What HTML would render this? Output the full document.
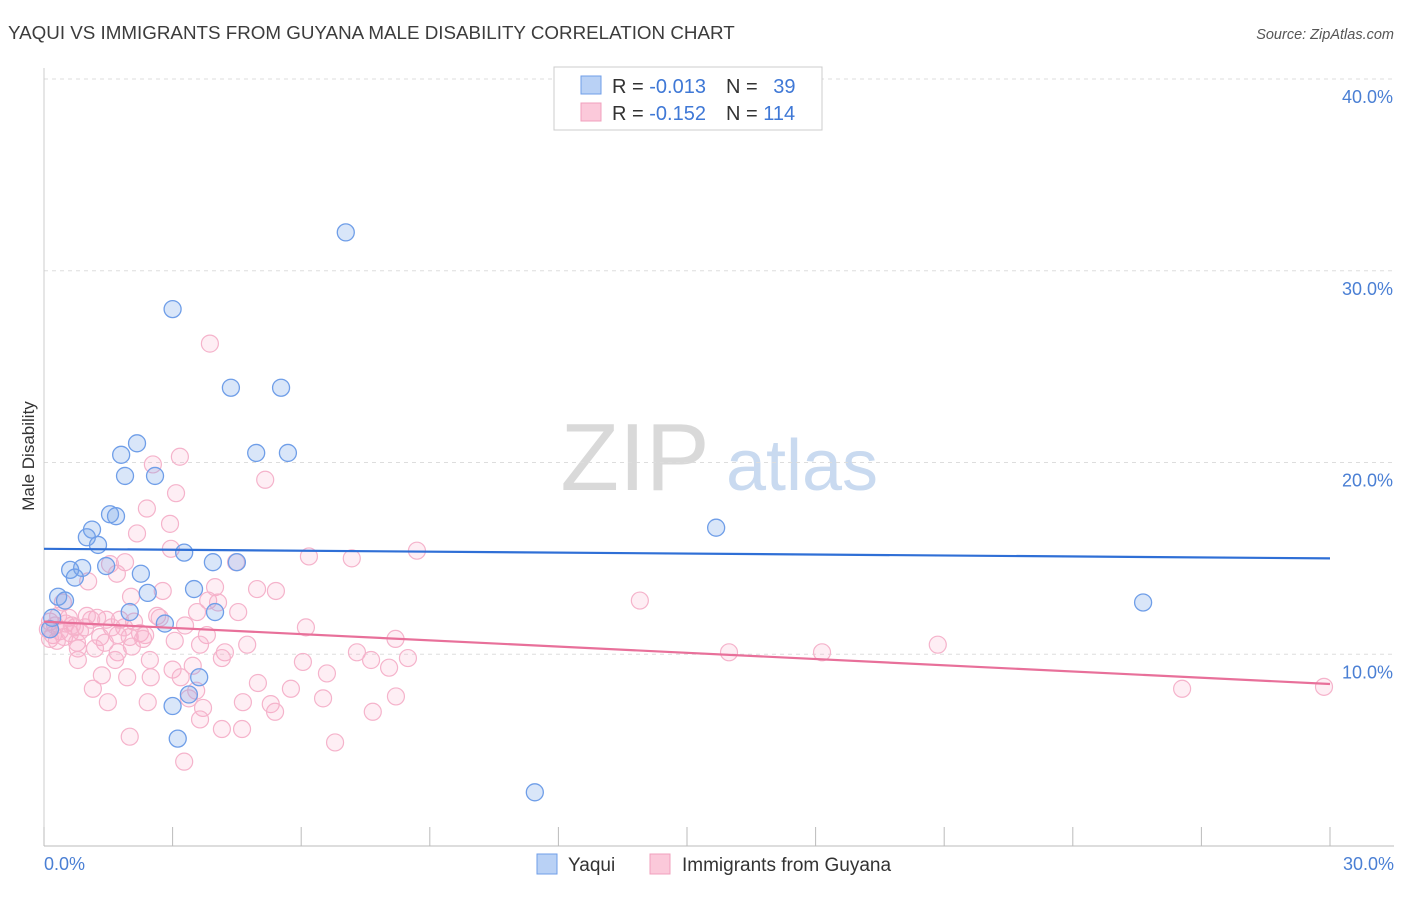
<!DOCTYPE html>
<html><head><meta charset="utf-8">
<style>
body{margin:0;background:#fff;font-family:"Liberation Sans",sans-serif;}
svg text{font-family:"Liberation Sans",sans-serif;}
</style></head>
<body>
<svg id="chart" width="1406" height="892" xmlns="http://www.w3.org/2000/svg">
<text x="8" y="39" font-size="18.8" fill="#3c3c3c">YAQUI VS IMMIGRANTS FROM GUYANA MALE DISABILITY CORRELATION CHART</text>
<text x="1394" y="39" font-size="14.5" fill="#555" text-anchor="end" font-style="italic">Source: ZipAtlas.com</text>
<g>
<text x="635" y="490" font-size="96" fill="#d9d9d9" font-family="Liberation Serif" text-anchor="middle">ZIP</text>
<text x="802" y="490" font-size="72" fill="#c9daf0" text-anchor="middle">atlas</text>
</g>
<g id="grid"></g>
<g id="axes"></g>
<g id="marks"></g>
<text x="34" y="456" font-size="17" fill="#333" text-anchor="middle" transform="rotate(-90 34 456)">Male Disability</text>
<g>
<rect x="554" y="67" width="268" height="63" fill="#fff" stroke="#ccc"/>
<rect x="581" y="76" width="20" height="18" fill="#b9d1f5" stroke="#6f9ee8"/>
<rect x="581" y="103" width="20" height="18" fill="#fbc9da" stroke="#f0a0bd"/>
<text x="612" y="93" font-size="20" fill="#333">R = <tspan fill="#3f78d6">-0.013</tspan><tspan dx="20">N = </tspan><tspan fill="#3f78d6" dx="10">39</tspan></text>
<text x="612" y="120" font-size="20" fill="#333">R = <tspan fill="#3f78d6">-0.152</tspan><tspan dx="20">N = </tspan><tspan fill="#3f78d6">114</tspan></text>
</g>
<g>
<rect x="537" y="854" width="20" height="20" fill="#b9d1f5" stroke="#6f9ee8"/>
<text x="568" y="871" font-size="19" fill="#333">Yaqui</text>
<rect x="650" y="854" width="20" height="20" fill="#fbc9da" stroke="#f0a0bd"/>
<text x="682" y="871" font-size="19" fill="#333">Immigrants from Guyana</text>
</g>
</svg>
<script>
const yTicks=[10,20,30,40];
const yTickLabels=["10.0%","20.0%","30.0%","40.0%"];
const xTicks=[0,3,6,9,12,15,18,21,24,27,30];
const yaquiX=[7.04,3.0,4.36,5.53,2.17,1.8,4.95,5.69,1.89,2.59,1.54,1.68,1.12,1.0,1.26,3.27,3.94,4.5,1.45,0.89,0.61,0.72,2.26,3.5,2.42,0.33,0.49,2.0,3.99,0.19,2.82,15.68,25.64,3.38,3.62,3.0,3.12,11.45,0.14];
const yaquiY=[32.0,28.0,23.9,23.9,21.0,20.4,20.5,20.5,19.3,19.3,17.3,17.2,16.5,16.1,15.7,15.3,14.8,14.8,14.6,14.5,14.4,14.0,14.2,13.4,13.2,13.0,12.8,12.2,12.2,11.9,11.6,16.6,12.7,7.9,8.8,7.3,5.6,2.8,11.3];
const guyanaX=[3.87,3.17,2.54,5.16,3.08,2.4,2.94,2.17,2.96,6.18,7.18,8.7,1.89,1.54,4.48,1.7,1.03,3.99,4.97,5.41,2.77,2.03,3.83,4.06,13.9,0.44,4.53,3.57,2.64,0.58,1.24,1.77,1.1,1.45,2.1,0.14,0.26,0.96,0.72,1.58,3.29,6.11,0.37,0.84,0.61,2.24,2.36,1.72,1.31,0.21,3.8,0.47,2.0,0.14,8.2,3.05,1.42,0.77,0.79,1.19,4.74,20.85,2.05,4.22,7.3,15.98,18.15,1.72,8.49,4.15,7.63,0.79,6.04,3.47,8.05,3.0,1.35,1.94,2.49,3.19,6.6,4.99,3.55,5.76,1.14,26.55,29.86,8.21,2.42,6.51,1.49,4.64,3.38,5.29,3.71,5.39,7.67,3.64,4.15,4.62,2.0,6.79,3.27,0.09,0.33,1.0,0.51,1.87,2.31,2.7,0.3,0.65,1.66,3.64,2.47];
const guyanaY=[26.2,20.3,19.9,19.1,18.4,17.6,16.8,16.3,15.5,15.1,15.0,15.4,14.8,14.7,14.8,14.2,13.8,13.5,13.4,13.3,13.3,13.0,12.8,12.7,12.8,12.7,12.2,12.2,12.0,11.9,11.9,11.8,11.8,11.8,11.7,11.7,11.5,11.4,11.4,11.4,11.5,11.4,11.2,11.2,11.1,11.1,11.0,11.0,10.9,11.0,11.0,10.9,10.9,10.8,10.8,10.7,10.6,10.6,10.3,10.3,10.5,10.5,10.4,10.1,10.1,10.1,10.1,10.1,9.8,9.8,9.7,9.7,9.6,9.4,9.3,9.2,8.9,8.8,8.8,8.8,9.0,8.5,8.1,8.2,8.2,8.2,8.3,7.8,7.5,7.7,7.5,7.5,7.7,7.4,7.2,7.0,7.0,6.6,6.1,6.1,5.7,5.4,4.4,11.3,12.0,12.0,11.6,11.4,10.8,11.9,10.7,11.5,9.7,10.5,9.7];
const yaquiTrend=[15.5,15.0];
const guyanaTrend=[11.7,8.45];

const NS="http://www.w3.org/2000/svg";
const X=v=>44+v*(1330-44)/30;
const Y=v=>846-v*(846-79)/40;
function mk(tag,attrs,parent){const e=document.createElementNS(NS,tag);for(const k in attrs)e.setAttribute(k,attrs[k]);parent.appendChild(e);return e;}
const grid=document.getElementById('grid'),axes=document.getElementById('axes'),marks=document.getElementById('marks');
yTicks.forEach((t,i)=>{
  const l=mk('line',{x1:44,x2:1394,y1:Y(t),y2:Y(t),stroke:'#ddd','stroke-dasharray':'4,4'},grid);
  
  
  const tx=mk('text',{x:1393,y:Y(t)+24,'font-size':18,fill:'#4a7fd4','text-anchor':'end'},axes);
  tx.textContent=yTickLabels[i];
  
  
});
const ax=mk('line',{x1:44,x2:1394,y1:846,y2:846,stroke:'#bbb'},axes);


const ay=mk('line',{x1:44,x2:44,y1:68,y2:846,stroke:'#ccc'},axes);


xTicks.forEach(t=>{
  const l=mk('line',{x1:X(t),x2:X(t),y1:827,y2:846,stroke:'#bbb'},axes);
  
  
});
const x0=mk('text',{x:44,y:870,'font-size':18,fill:'#4a7fd4'},axes);x0.textContent="0.0%";


const x1=mk('text',{x:1394,y:870,'font-size':18,fill:'#4a7fd4','text-anchor':'end'},axes);x1.textContent="30.0%";



guyanaX.forEach((v,i)=>{
  const c=mk('circle',{cx:X(v),cy:Y(guyanaY[i]),r:8.5,fill:'rgba(248,170,198,0.2)',stroke:'#f5b3cb','stroke-width':1.2},marks);
  
  
});
yaquiX.forEach((v,i)=>{
  const c=mk('circle',{cx:X(v),cy:Y(yaquiY[i]),r:8.5,fill:'rgba(120,165,235,0.28)',stroke:'#6f9ee8','stroke-width':1.3},marks);
  
  
});
const t1=mk('line',{x1:X(0),x2:X(30),y1:Y(yaquiTrend[0]),y2:Y(yaquiTrend[1]),stroke:'#2f6fd6','stroke-width':2.2},marks);


const t2=mk('line',{x1:X(0),x2:X(30),y1:Y(guyanaTrend[0]),y2:Y(guyanaTrend[1]),stroke:'#e8709a','stroke-width':2.2},marks);


</script>
</body></html>
